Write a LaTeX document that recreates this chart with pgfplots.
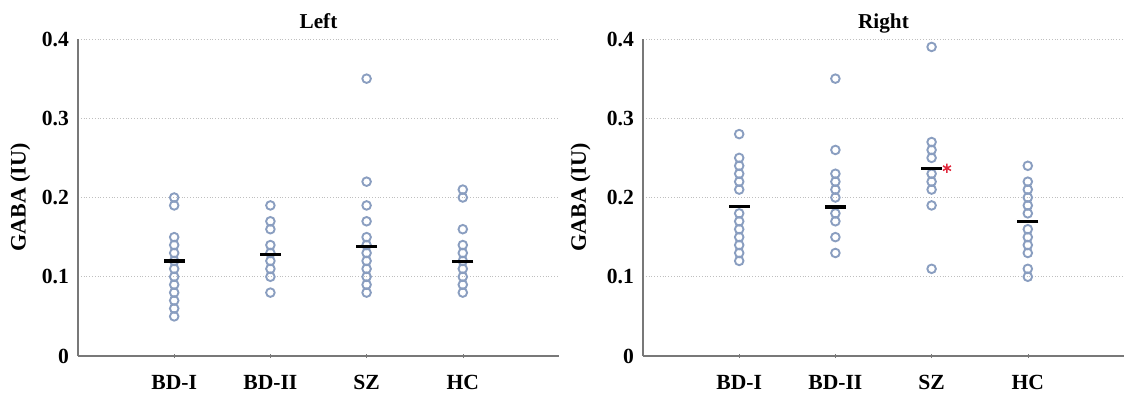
\documentclass[border=0pt]{standalone}
\usepackage{fontspec}
\setmainfont{Liberation Serif}
\usepackage{pgfplots}
\pgfplotsset{compat=1.18}
\definecolor{markcol}{RGB}{138,158,192}
\definecolor{axcol}{RGB}{120,120,120}
\definecolor{starcol}{RGB}{225,40,60}
\pgfplotsset{
 gabastyle/.style={
  scale only axis, width=240.5pt, height=158.5pt,
  xmin=0, xmax=5, ymin=0, ymax=0.4,
  axis x line=bottom, axis y line=left,
  axis line style={-, draw=axcol, line width=0.7pt},
  xtick={1,2,3,4}, xticklabels={BD-I,BD-II,SZ,HC},
  ytick={0,0.1,0.2,0.3,0.4}, yticklabels={0,0.1,0.2,0.3,0.4},
  ymajorgrids, major grid style={densely dotted, black!25, line width=0.5pt},
  major tick length=2pt, xtick style={draw=axcol}, ytick style={draw=none},
  tick label style={font=\fontsize{10.8}{12}\selectfont\bfseries},
  xticklabel style={yshift=-5pt},
  ylabel={GABA (IU)},
  ylabel style={font=\fontsize{11}{12}\selectfont\bfseries, at={(axis description cs:-0.12,0.5)}, anchor=center},
  title style={font=\fontsize{10.6}{12}\selectfont\bfseries, at={(axis description cs:0.5,1)}, anchor=base, yshift=-0.7pt},
  clip=false,
 },
 pts/.style={only marks, mark=o, mark size=2.15pt, mark options={draw=markcol, line width=0.95pt}},
 meanl/.style={only marks, mark=-, mark size=5.25pt, mark options={draw=black, line width=1.6pt}},
}
\begin{document}
\begin{tikzpicture}
\begin{axis}[gabastyle, at={(39pt,20.5pt)}, anchor=south west, title={Left}]
\addplot[pts] coordinates {
(1,0.20) (1,0.19) (1,0.15) (1,0.14) (1,0.13) (1,0.12) (1,0.11) (1,0.10) (1,0.09) (1,0.08) (1,0.07) (1,0.06) (1,0.05)
(2,0.19) (2,0.17) (2,0.16) (2,0.14) (2,0.13) (2,0.12) (2,0.11) (2,0.10) (2,0.08)
(3,0.35) (3,0.22) (3,0.19) (3,0.17) (3,0.15) (3,0.14) (3,0.13) (3,0.12) (3,0.11) (3,0.10) (3,0.09) (3,0.08)
(4,0.21) (4,0.20) (4,0.16) (4,0.14) (4,0.13) (4,0.12) (4,0.11) (4,0.10) (4,0.09) (4,0.08)
};
\addplot[meanl] coordinates {(1,0.120) (2,0.128) (3,0.138) (4,0.119)};
\end{axis}
\begin{axis}[gabastyle, at={(321.5pt,20.5pt)}, anchor=south west, title={Right},
  ylabel style={at={(axis description cs:-0.13,0.5)}}]
\addplot[pts] coordinates {
(1,0.28) (1,0.25) (1,0.24) (1,0.23) (1,0.22) (1,0.21) (1,0.18) (1,0.17) (1,0.16) (1,0.15) (1,0.14) (1,0.13) (1,0.12)
(2,0.35) (2,0.26) (2,0.23) (2,0.22) (2,0.21) (2,0.20) (2,0.18) (2,0.17) (2,0.15) (2,0.13)
(3,0.39) (3,0.27) (3,0.26) (3,0.25) (3,0.23) (3,0.22) (3,0.21) (3,0.19) (3,0.11)
(4,0.24) (4,0.22) (4,0.21) (4,0.20) (4,0.19) (4,0.18) (4,0.16) (4,0.15) (4,0.14) (4,0.13) (4,0.11) (4,0.10)
};
\addplot[meanl] coordinates {(1,0.189) (2,0.188) (3,0.237) (4,0.170)};
\addplot[only marks, mark=asterisk, mark size=2.3pt, mark options={draw=starcol, line width=0.75pt}] coordinates {(3.16,0.237)};
\end{axis}
\pgfresetboundingbox
\useasboundingbox (0,0) rectangle (562pt,198.5pt);
\end{tikzpicture}
\end{document}
